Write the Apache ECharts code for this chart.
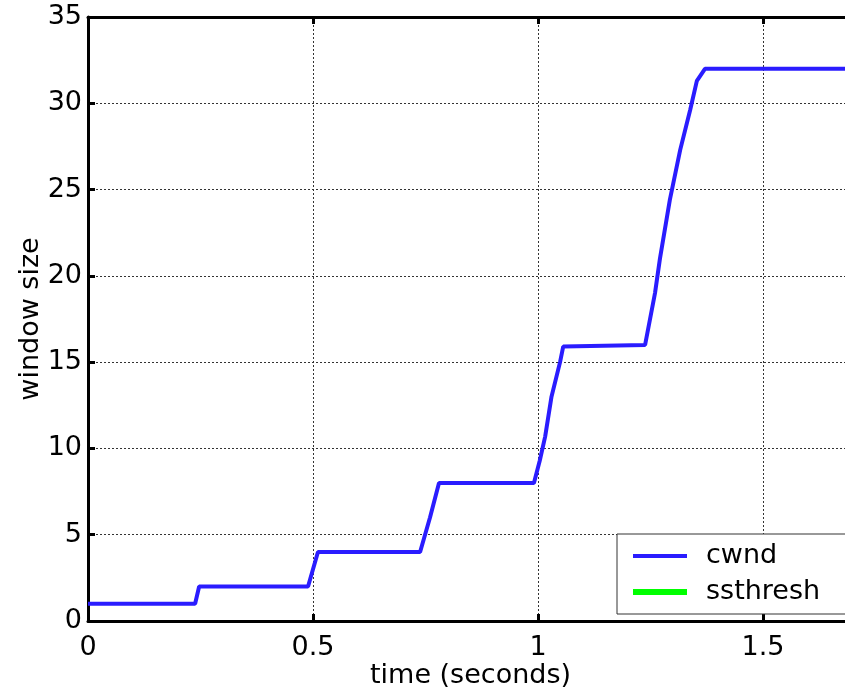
<!DOCTYPE html>
<html>
<head>
<meta charset="utf-8">
<script src="https://cdn.jsdelivr.net/npm/echarts@6/dist/echarts.min.js"></script>
<style>html,body{margin:0;padding:0;background:#fff;}#c{width:845px;height:695px;}</style>
</head>
<body>
<div id="c"></div>
<script>
// time (seconds) and congestion window samples
const timeS = [0, 0.238, 0.247, 0.489, 0.500, 0.511, 0.738, 0.760, 0.780, 0.991, 1.004, 1.016, 1.030, 1.049, 1.056, 1.060, 1.238, 1.260, 1.271, 1.293, 1.316, 1.338, 1.353, 1.371, 1.700];
const cwnd  = [1, 1, 2, 2, 3, 4, 4, 6, 8, 8, 9.3, 10.7, 13, 15, 15.9, 16, 16, 19, 21, 24.4, 27.3, 29.6, 31.3, 32, 32];
const ssthreshT = [];
const ssthresh = [];
const xTicks = [0, 0.5, 1, 1.5];
const yTicks = [0, 5, 10, 15, 20, 25, 30, 35];

const FONT = 'DejaVu Sans';
const chart = echarts.init(document.getElementById('c'), null, {renderer: 'canvas'});
const axisCommon = {
  min: 0,
  axisLine: {show: true, lineStyle: {color: '#000', width: 3}},
  axisTick: {show: true, inside: true, length: 7, lineStyle: {color: '#000', width: 3}},
  axisLabel: {color: '#000', fontFamily: FONT, fontSize: 27},
  splitLine: {show: true, lineStyle: {color: '#333', width: 1, type: [2, 2]}}
};
chart.setOption({
  animation: false,
  backgroundColor: '#fff',
  grid: {left: 88, top: 17, width: 765, height: 604, containLabel: false, outerBoundsMode: 'none'},
  xAxis: [
    Object.assign({}, axisCommon, {
      type: 'value', position: 'bottom', max: 1.7, interval: xTicks[1] - xTicks[0],
      name: 'time (seconds)', nameLocation: 'middle', nameGap: 41, nameMoveOverlap: false,
      nameTextStyle: {color: '#000', fontFamily: FONT, fontSize: 27},
      axisLabel: {color: '#000', fontFamily: FONT, fontSize: 27, margin: 13,
        formatter: v => xTicks.indexOf(v) >= 0 ? String(v) : ''}
    }),
    {
      type: 'value', position: 'top', min: 0, max: 1.7, interval: xTicks[1] - xTicks[0],
      axisLine: {show: true, lineStyle: {color: '#000', width: 3}},
      axisTick: {show: true, inside: true, length: 7, lineStyle: {color: '#000', width: 3}},
      axisLabel: {show: false}, splitLine: {show: false}
    }
  ],
  yAxis: Object.assign({}, axisCommon, {
    type: 'value', max: 35, interval: yTicks[1] - yTicks[0],
    name: 'window size', nameLocation: 'middle', nameGap: 44, nameMoveOverlap: false,
    nameTextStyle: {color: '#000', fontFamily: FONT, fontSize: 27},
    axisLabel: {color: '#000', fontFamily: FONT, fontSize: 27, margin: 6}
  }),
  graphic: [{
    type: 'rect', z: 3,
    shape: {x: 617, y: 534, width: 260, height: 80},
    style: {fill: '#fff', stroke: '#333', lineWidth: 1}
  }],
  legend: [
    {data: ['cwnd'], left: 633, top: 541, padding: 0, icon: 'rect', itemWidth: 54, itemHeight: 4, z: 10,
     textStyle: {color: '#000', fontFamily: FONT, fontSize: 27, lineHeight: 30, padding: [0, 0, 0, 14]}},
    {data: ['ssthresh'], left: 633, top: 577, padding: 0, icon: 'rect', itemWidth: 54, itemHeight: 6, z: 10,
     textStyle: {color: '#000', fontFamily: FONT, fontSize: 27, lineHeight: 30, padding: [0, 0, 0, 14]}}
  ],
  series: [
    {name: 'cwnd', type: 'line', xAxisIndex: 0, showSymbol: false, z: 2,
     color: '#2a1cff', lineStyle: {color: '#2a1cff', width: 4},
     data: timeS.map((t, i) => [t, cwnd[i]])},
    {name: 'ssthresh', type: 'line', xAxisIndex: 0, showSymbol: false, z: 2,
     color: '#00ff00', lineStyle: {color: '#00ff00', width: 6},
     data: ssthreshT.map((t, i) => [t, ssthresh[i]])}
  ]
});
</script>
</body>
</html>
